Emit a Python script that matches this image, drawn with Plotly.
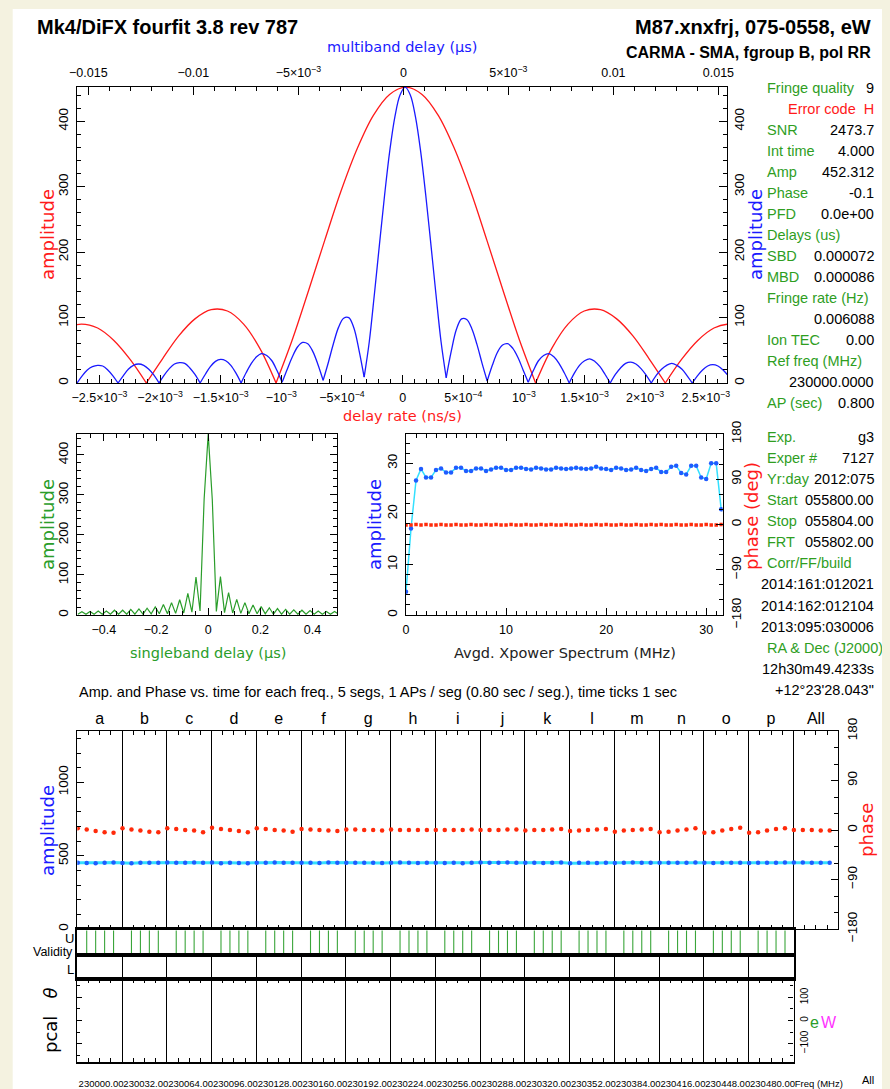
import plotly.graph_objects as go

# the page body keeps its default 8px margin, so the figure is laid out in page pixels minus 8
OFF = 8
FW, FH = 882, 1081


def fx(px):
    return (px - OFF) / FW


def fy(py):
    return 1.0 - (py - OFF) / FH


# ---------------- data ----------------
# delay-rate spectrum (red, bottom axis, ns/s); lobes sampled every 1/8 null spacing
rate_peak = 2.65e-5
rate_null = 1.07e-3
rate_lobe_starts = [-2.625, -2.0, -1.0, 1.0, 2.0]
rate_lobe_1 = [84, 90, 84, 65, 36, 0]
rate_lobe_2 = [0, 37, 72, 98, 112, 110, 90, 53, 0]
rate_lobe_3 = [0, 66, 141, 218, 293, 358, 409, 441, 452, 441, 409, 358, 293, 218, 141, 66, 0]
rate_lobe_4 = [0, 53, 90, 110, 112, 98, 72, 37, 0]
rate_lobe_5 = [0, 36, 65, 84, 90, 84]

# multiband delay function (blue, top axis, us)
mbd_peak = 8.6e-5
mbd_null = 1.953e-3
mbd_lobe_starts = [-8, -7, -6, -5, -4, -3, -2, -1, 1, 2, 3, 4, 5, 6, 7]
mbd_n7 = [0, 11, 20, 25, 27, 26, 20, 11, 0]
mbd_n6 = [0, 11, 21, 27, 29, 27, 21, 12, 0]
mbd_n5 = [0, 12, 22, 29, 31, 30, 23, 13, 0]
mbd_n4 = [0, 13, 25, 33, 36, 34, 27, 15, 0]
mbd_n3 = [0, 16, 30, 40, 45, 42, 34, 19, 1]
mbd_n2 = [1, 21, 40, 55, 62, 60, 48, 28, 4]
mbd_n1 = [4, 31, 60, 85, 99, 100, 84, 50, 9]
mbd_main = [9, 63, 136, 213, 288, 355, 407, 440, 452, 440, 407, 355, 288, 213, 136, 63, 8]
mbd_p1 = [8, 49, 82, 98, 97, 83, 59, 30, 3]
mbd_p2 = [3, 27, 47, 58, 60, 53, 39, 20, 1]
mbd_p3 = [1, 19, 34, 42, 45, 40, 30, 16, 0]
mbd_p4 = [0, 15, 27, 34, 37, 33, 25, 13, 0]
mbd_p5 = [0, 13, 23, 30, 32, 29, 22, 12, 0]
mbd_p6 = [0, 12, 21, 27, 30, 27, 21, 11, 0]
mbd_p7 = [0, 11, 20, 26, 28, 26, 20, 11, 0]

rate_tickvals = [-2.5e-3, -2e-3, -1.5e-3, -1e-3, -5e-4, 0, 5e-4, 1e-3, 1.5e-3, 2e-3, 2.5e-3]
rate_ticktext = ["\u22122.5\u00d710<sup>\u22123</sup>", "\u22122\u00d710<sup>\u22123</sup>",
                 "\u22121.5\u00d710<sup>\u22123</sup>", "\u221210<sup>\u22123</sup>",
                 "\u22125\u00d710<sup>\u22124</sup>", "0", "5\u00d710<sup>\u22124</sup>",
                 "10<sup>\u22123</sup>", "1.5\u00d710<sup>\u22123</sup>",
                 "2\u00d710<sup>\u22123</sup>", "2.5\u00d710<sup>\u22123</sup>"]
mbd_tickvals = [-0.015, -0.01, -0.005, 0, 0.005, 0.01, 0.015]
mbd_ticktext = ["\u22120.015", "\u22120.01", "\u22125\u00d710<sup>\u22123</sup>", "0",
                "5\u00d710<sup>\u22123</sup>", "0.01", "0.015"]

# singleband delay function (green), samples every 1/64 us
sbd_step = 1.0 / 64.0
sbd_pos = [452, 288, 9, 96, 6, 56, 5, 39, 4, 31, 3, 25, 3, 21, 3, 18, 2, 16, 2, 14,
           2, 13, 2, 12, 2, 11, 2, 10, 2, 9, 2, 9, 2]
sbd_neg = [290, 10, 95, 7, 54, 5, 38, 4, 31, 3, 26, 3, 20, 3, 17, 2, 15, 2, 14, 2,
           12, 2, 12, 2, 10, 2, 10, 2, 9, 2, 8, 2]

# averaged cross-power spectrum, 0.5 MHz bins
xp_step = 0.5
xp_amp = [4.6, 17.1, 26.6, 28.9, 27.2, 27.2, 28.7, 29.0, 28.2, 28.2,
          29.1, 29.1, 28.5, 28.5, 29.0, 29.0, 28.5, 28.8, 29.1, 29.1,
          28.7, 28.7, 29.1, 29.1, 28.9, 28.8, 29.1, 29.0, 28.8, 28.8,
          29.1, 29.0, 28.9, 29.0, 29.1, 29.0, 28.9, 29.0, 29.3, 29.0,
          28.9, 28.7, 29.1, 29.0, 28.7, 28.8, 29.1, 28.7, 28.5, 28.9,
          29.1, 28.3, 28.3, 29.3, 29.5, 28.1, 27.8, 29.5, 29.5, 27.2,
          26.9, 30.0, 30.0, 20.9]
xp_phase = [-1, -1, 0, -1, 0, -1, -1, 0, -1, -1,
            0, -1, -1, 0, -1, -1, 0, -1, 0, -1,
            -1, 0, -1, -1, 0, -1, -1, 0, -1, 0,
            -1, -1, 0, -1, -1, 0, -1, -1, 0, -1,
            0, -1, -1, 0, -1, -1, 0, -1, -1, 0,
            -1, 0, -1, -1, 0, -1, -1, 0, -1, -1,
            0, -1, -1, 0]

# amplitude / phase vs time, 5 segments per channel
channels = ["a", "b", "c", "d", "e", "f", "g", "h", "i", "j", "k", "l", "m", "n", "o", "p", "All"]
seg_amp = [
    [452, 450, 449, 451, 453], [450, 448, 451, 452, 452], [454, 451, 452, 453, 452],
    [453, 449, 451, 450, 449], [452, 452, 453, 452, 452], [451, 452, 450, 453, 452],
    [452, 451, 452, 451, 450], [452, 453, 452, 450, 451], [451, 450, 452, 449, 452],
    [454, 452, 451, 453, 451], [452, 451, 450, 452, 454], [449, 451, 452, 450, 451],
    [450, 451, 454, 452, 451], [452, 451, 451, 452, 453], [452, 450, 451, 452, 451],
    [450, 451, 452, 451, 453], [454, 453, 452, 451, 452]]
seg_phase = [
    [3, 1, -2, -4, -5], [3, 1, -1, -3, -4], [3, 2, 0, -1, -4], [4, 2, 0, -2, -4],
    [3, 2, 0, -1, -3], [2, 1, 0, -1, -2], [1, 1, 0, 0, -1], [1, 0, 0, 0, 0],
    [0, 0, 0, 0, 1], [0, 0, 0, 1, 1], [-1, 0, 0, 1, 2], [-2, -1, 0, 1, 2],
    [-3, -1, 0, 1, 2], [-4, -3, -1, 1, 3], [-5, -4, -1, 2, 4], [-5, -4, -1, 2, 3],
    [0, 0, 0, -1, -1]]
valid_u = [
    [0, 1, 1, 1, 1], [0, 1, 1, 1, 1], [0, 1, 1, 1, 1], [0, 1, 1, 1, 1],
    [0, 1, 1, 1, 1], [0, 1, 1, 1, 1], [0, 1, 1, 1, 1], [0, 1, 1, 1, 1],
    [0, 1, 1, 1, 1], [0, 1, 1, 1, 1], [0, 1, 1, 1, 1], [0, 1, 1, 1, 1],
    [0, 1, 1, 1, 1], [0, 1, 1, 1, 1], [0, 1, 1, 1, 1], [0, 1, 1, 1, 1]]
freq_labels = ["230000.00", "230032.00", "230064.00", "230096.00", "230128.00", "230160.00",
               "230192.00", "230224.00", "230256.00", "230288.00", "230320.00", "230352.00",
               "230384.00", "230416.00", "230448.00", "230480.00", "Freq (MHz)"]

# right-hand text panel
rp1_left = ["Fringe quality", "", "SNR", "Int time", "Amp", "Phase", "PFD", "Delays (us)",
            "SBD", "MBD", "Fringe rate (Hz)", "", "Ion TEC", "Ref freq (MHz)", "", "AP (sec)"]
rp1_right = ["9", "Error code\u00a0 H", "2473.7", "4.000", "452.312", "-0.1", "0.0e+00", "",
             "0.000072", "0.000086", "", "0.006088", "0.00", "", "230000.0000", "0.800"]
rp2_left = ["Exp.", "Exper #", "Yr:day", "Start", "Stop", "FRT", "Corr/FF/build", "", "", "",
            "RA &amp; Dec (J2000)", "", ""]
rp2_right = ["g3", "7127", "2012:075", "055800.00", "055804.00", "055802.00", "",
             "2014:161:012021", "2014:162:012104", "2013:095:030006", "",
             "12h30m49.4233s", "+12\u00b023'28.043\""]

# ---------------- styles ----------------
BEIGE = "#f4f2e0"
RED = "#ff1a1a"
BLUE = "#1a1aff"
GREEN = "#2a9d2a"
TXTGREEN = "#2f9e1f"
CYAN = "#33e0ff"
PTBLUE = "#1f5cff"
PTRED = "#ff2a0a"
SANS = "Liberation Sans, Arial, sans-serif"
TITLE = "DejaVu Sans, sans-serif"

xt_font = dict(family=SANS, size=12.5, color="black")
yt_font = dict(family=SANS, size=13.5, color="black")


def lobes_xy(starts, lobes, center, step):
    xs, ys = [], []
    for s, vals in zip(starts, lobes):
        for i, v in enumerate(vals):
            xs.append(center + (s + i / 8.0) * step)
            ys.append(v)
        xs.append(None)
        ys.append(None)
    return xs, ys


fig = go.Figure()

rx, ry = lobes_xy(rate_lobe_starts, [rate_lobe_1, rate_lobe_2, rate_lobe_3, rate_lobe_4, rate_lobe_5],
                  rate_peak, rate_null)
fig.add_trace(go.Scatter(x=rx, y=ry, mode="lines", line=dict(color=RED, width=1.3, shape="spline"),
                         xaxis="x", yaxis="y", connectgaps=False, hoverinfo="skip"))
mbd_lobes = [mbd_n7, mbd_n6, mbd_n5, mbd_n4, mbd_n3, mbd_n2, mbd_n1, mbd_main,
             mbd_p1, mbd_p2, mbd_p3, mbd_p4, mbd_p5, mbd_p6, mbd_p7]
bx, by = lobes_xy(mbd_lobe_starts, mbd_lobes, mbd_peak, mbd_null)
fig.add_trace(go.Scatter(x=bx, y=by, mode="lines", line=dict(color=BLUE, width=1.3, shape="spline"),
                         xaxis="x2", yaxis="y", connectgaps=False, hoverinfo="skip"))
fig.add_trace(go.Scatter(x=[], y=[], xaxis="x", yaxis="y2"))

# singleband delay
sx = [-(k + 1) * sbd_step for k in range(len(sbd_neg))][::-1] + [k * sbd_step for k in range(len(sbd_pos))]
sy = sbd_neg[::-1] + sbd_pos
fig.add_trace(go.Scatter(x=sx, y=sy, mode="lines", line=dict(color=GREEN, width=1.2),
                         xaxis="x3", yaxis="y3", hoverinfo="skip"))

# cross power spectrum
xpx = [i * xp_step for i in range(len(xp_amp))]
fig.add_trace(go.Scatter(x=xpx, y=xp_amp, mode="lines+markers",
                         line=dict(color=CYAN, width=1.5),
                         marker=dict(color=PTBLUE, size=4.5, line=dict(width=0)),
                         xaxis="x4", yaxis="y4", hoverinfo="skip"))
fig.add_trace(go.Scatter(x=xpx, y=xp_phase, mode="markers",
                         marker=dict(color=PTRED, size=3.5, symbol="square", line=dict(width=0)),
                         xaxis="x4", yaxis="y5", hoverinfo="skip"))

# amp / phase vs time
tx, ta, tp = [], [], []
for c in range(len(channels)):
    for k in range(5):
        tx.append(c + k * 0.2 + 0.01)
        ta.append(seg_amp[c][k])
        tp.append(seg_phase[c][k])
fig.add_trace(go.Scatter(x=tx, y=ta, mode="lines", line=dict(color=CYAN, width=3),
                         xaxis="x5", yaxis="y6", hoverinfo="skip"))
fig.add_trace(go.Scatter(x=tx, y=ta, mode="markers", marker=dict(color=PTBLUE, size=4.5),
                         xaxis="x5", yaxis="y6", hoverinfo="skip"))
fig.add_trace(go.Scatter(x=tx, y=tp, mode="markers", marker=dict(color=PTRED, size=4.5),
                         xaxis="x5", yaxis="y7", hoverinfo="skip"))
fig.add_trace(go.Scatter(x=[], y=[], xaxis="x9", yaxis="y6"))

# validity
vx, vy = [], []
for c in range(len(valid_u)):
    for k in range(5):
        if valid_u[c][k]:
            xx = c + k * 0.2 + 0.01
            vx += [xx, xx, None]
            vy += [0.06, 0.94, None]
fig.add_trace(go.Scatter(x=vx, y=vy, mode="lines", line=dict(color="#3aa53a", width=1.1),
                         xaxis="x6", yaxis="y8", hoverinfo="skip"))
fig.add_trace(go.Scatter(x=[], y=[], xaxis="x7", yaxis="y9"))
fig.add_trace(go.Scatter(x=[], y=[], xaxis="x8", yaxis="y10"))

# ---------------- axes ----------------
base = dict(showline=True, linecolor="black", linewidth=1.2, ticks="inside", tickcolor="black",
            tickwidth=1, showgrid=False, zeroline=False, fixedrange=True, automargin=False)


def minor(dt, ln=4, t0=0):
    return dict(ticks="inside", ticklen=ln, tick0=t0, dtick=dt, tickcolor="black", tickwidth=1, showgrid=False)


lay = {}
lay["xaxis"] = dict(base, domain=[fx(77), fx(727)], anchor="y", range=[-2.685e-3, 2.675e-3],
                    tickmode="array", tickvals=rate_tickvals, ticktext=rate_ticktext, ticklen=8,
                    minor=minor(1e-4), mirror=True, tickfont=xt_font, tickangle=0, ticklabelstandoff=3)
lay["xaxis2"] = dict(base, overlaying="x", side="top", anchor="y", range=[-0.01554, 0.01541],
                     tickmode="array", tickvals=mbd_tickvals, ticktext=mbd_ticktext, ticklen=8,
                     minor=minor(1e-3), tickfont=xt_font, tickangle=0, ticklabelstandoff=4)
lay["yaxis"] = dict(base, domain=[fy(383), fy(87)], anchor="x", range=[0, 452.3], tick0=0, dtick=100,
                    ticklen=8, minor=minor(20), tickangle=-90, tickfont=yt_font, ticklabelstandoff=3)
lay["yaxis2"] = dict(base, overlaying="y", side="right", anchor="x", range=[0, 452.3], tick0=0, dtick=100,
                     ticklen=8, minor=minor(20), tickangle=-90, tickfont=yt_font, ticklabelstandoff=0)

lay["xaxis3"] = dict(base, domain=[fx(77.3), fx(337.3)], anchor="y3", range=[-0.502, 0.495], tick0=0,
                     dtick=0.2, ticklen=7, minor=minor(0.05), mirror="ticks", tickfont=xt_font,
                     tickangle=0, ticklabelstandoff=3)
lay["yaxis3"] = dict(base, domain=[fy(615), fy(434)], anchor="x3", range=[0, 452.3], tick0=0, dtick=100,
                     ticklen=7, minor=minor(20), mirror="ticks", tickangle=-90, tickfont=yt_font,
                     ticklabelstandoff=3)

lay["xaxis4"] = dict(base, domain=[fx(406), fx(722.7)], anchor="y4", range=[0, 31.65], tick0=0, dtick=10,
                     ticklen=7, minor=minor(1), mirror="ticks", tickfont=xt_font, tickangle=0,
                     ticklabelstandoff=3)
lay["yaxis4"] = dict(base, domain=[fy(615), fy(434)], anchor="x4", range=[0, 35.8], tick0=0, dtick=10,
                     ticklen=7, minor=minor(2), tickangle=-90, tickfont=yt_font, ticklabelstandoff=3)
lay["yaxis5"] = dict(base, overlaying="y4", side="right", anchor="x4", range=[-180, 180], tick0=0,
                     dtick=90, ticklen=7, minor=minor(30), tickangle=-90, tickfont=yt_font,
                     ticklabelstandoff=1)

lay["xaxis5"] = dict(base, domain=[fx(77.3), fx(838.2)], anchor="y6", range=[0, 17], tick0=0, dtick=1,
                     showgrid=True, gridcolor="black", gridwidth=1, ticklen=4, showticklabels=False,
                     minor=minor(0.25), mirror="ticks")
lay["xaxis9"] = dict(overlaying="x5", side="top", anchor="y6", range=[0, 17], tickmode="array",
                     tickvals=[c + 0.5 for c in range(len(channels))], ticktext=channels, ticks="",
                     showline=False, showgrid=False, zeroline=False, fixedrange=True, automargin=False,
                     tickangle=0, tickfont=dict(family=SANS, size=16, color="black"),
                     ticklabelstandoff=3)
lay["yaxis6"] = dict(base, domain=[fy(929), fy(731)], anchor="x5", range=[0, 1350], tick0=0, dtick=500,
                     ticklen=7, minor=minor(100), tickangle=-90, tickfont=yt_font, ticklabelstandoff=3)
lay["yaxis7"] = dict(base, overlaying="y6", side="right", anchor="x5", range=[-180, 180], tick0=0,
                     dtick=90, ticklen=7, minor=minor(30), tickangle=-90, tickfont=yt_font,
                     ticklabelstandoff=1)

lay["xaxis6"] = dict(base, domain=[fx(77.3), fx(793.5)], anchor="y8", range=[0, 16], ticks="",
                     showticklabels=False, mirror=True, linewidth=1.6)
lay["yaxis8"] = dict(base, domain=[fy(955), fy(929)], anchor="x6", range=[0, 1], ticks="",
                     showticklabels=False, mirror=True, linewidth=1.6)
lay["xaxis7"] = dict(base, domain=[fx(77.3), fx(793.5)], anchor="y9", range=[0, 16], ticks="",
                     tick0=0, dtick=1, showgrid=True, gridcolor="black", gridwidth=1,
                     showticklabels=False, mirror=True, linewidth=1.6)
lay["yaxis9"] = dict(base, domain=[fy(979), fy(955)], anchor="x7", range=[0, 1], ticks="",
                     showticklabels=False, mirror=True, linewidth=1.6)
lay["xaxis8"] = dict(base, domain=[fx(77.3), fx(793.5)], anchor="y10", range=[0, 16], tickmode="array",
                     tickvals=list(range(len(freq_labels))), ticktext=freq_labels, ticklen=3,
                     showgrid=True, gridcolor="black", gridwidth=1, minor=minor(0.25),
                     mirror="ticks", ticklabelposition="outside right", linewidth=1.6, tickangle=0,
                     tickfont=dict(family=SANS, size=9.5, color="black"), ticklabelstandoff=12)
lay["yaxis10"] = dict(base, domain=[fy(1062), fy(979)], anchor="x8", range=[-180, 180], side="right",
                      tick0=0, dtick=100, ticklen=5, minor=minor(50, 3), mirror="ticks", tickangle=-90,
                      tickfont=dict(family=SANS, size=10, color="black"), ticklabelstandoff=1)

# ---------------- annotations ----------------
anns = []


def ann(text, px, py, xanchor="center", size=14, color="black", family=TITLE, angle=0):
    anns.append(dict(text=text, x=fx(px), y=fy(py), xref="paper", yref="paper", xanchor=xanchor,
                     yanchor="middle", showarrow=False, textangle=angle,
                     font=dict(family=family, size=size, color=color)))


ann("<b>Mk4/DiFX fourfit 3.8 rev 787</b>", 35, 27, "left", 20, "black", SANS)
ann("<b>M87.xnxfrj, 075-0558, eW</b>", 873, 27, "right", 20, "black", SANS)
ann("<b>CARMA - SMA, fgroup B, pol RR</b>", 873, 52, "right", 16, "black", SANS)

ann("multiband delay (\u00b5s)", 402, 47, "center", 14.5, BLUE)
ann("delay rate (ns/s)", 402, 416, "center", 14.5, RED)
ann("amplitude", 47, 235, "center", 18, RED, TITLE, -90)
ann("amplitude", 755, 235, "center", 18, BLUE, TITLE, -90)
ann("amplitude", 47, 525, "center", 18, GREEN, TITLE, -90)
ann("singleband delay (\u00b5s)", 208, 653, "center", 14.5, GREEN)
ann("amplitude", 374, 525, "center", 18, BLUE, TITLE, -90)
ann("phase (deg)", 751, 516, "center", 18, RED, TITLE, -90)
ann("Avgd. Xpower Spectrum (MHz)", 565, 653, "center", 14.5, "#222222")
ann("Amp. and Phase vs. time for each freq., 5 segs, 1 APs / seg (0.80 sec / seg.), time ticks 1 sec",
    77, 692, "left", 14.5, "black", SANS)
ann("amplitude", 47, 831, "center", 18, BLUE, TITLE, -90)
ann("phase", 866, 830, "center", 18, RED, TITLE, -90)
ann("U", 76, 938, "right", 13, "black", SANS)
ann("Validity", 75, 952, "right", 12.5, "black", SANS)
ann("L", 76, 969, "right", 13, "black", SANS)
ann("pcal\u00a0\u00a0 <i>\u03b8</i>", 50, 1020, "center", 18, "black", TITLE, -90)
ann("e", 814, 1022, "center", 16, GREEN, SANS)
ann("W", 829, 1022, "center", 16, "#ff33ff", SANS)
ann("All", 868, 1080, "center", 11, "black", SANS)

for i in range(len(rp1_left)):
    yy = 88.3 + 21.0 * i
    if rp1_left[i]:
        ann(rp1_left[i], 765, yy, "left", 14.5, TXTGREEN, SANS)
    if rp1_right[i]:
        ann(rp1_right[i], 876, yy, "right", 14.5, RED if i == 1 else "black", SANS)
for i in range(len(rp2_left)):
    yy = 436.7 + 21.1 * i
    if rp2_left[i]:
        ann(rp2_left[i], 765, yy, "left", 14.5, TXTGREEN, SANS)
    if rp2_right[i]:
        ann(rp2_right[i], 876, yy, "right", 14.5, "black", SANS)

fig.update_layout(
    template="none",
    width=FW, height=FH, autosize=False, margin=dict(l=0, r=0, t=0, b=0, pad=0),
    paper_bgcolor=BEIGE, plot_bgcolor="white", showlegend=False, hovermode=False,
    font=dict(family=SANS, size=12, color="black"),
    annotations=anns,
    shapes=[dict(type="rect", xref="paper", yref="paper", x0=fx(12.7), x1=1, y0=0, y1=fy(9),
                 fillcolor="white", line=dict(width=0), layer="below")],
    **lay)

fig.write_html("out.html", post_script="document.body.style.background='%s';" % BEIGE)
